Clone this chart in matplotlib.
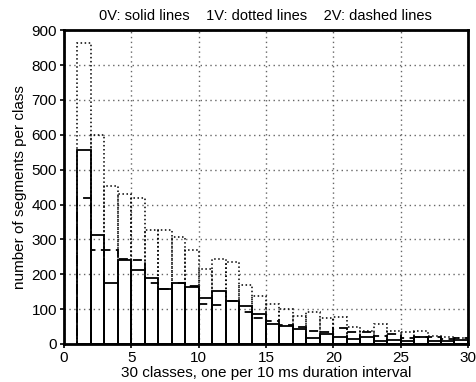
import numpy as np
import matplotlib
matplotlib.use("Agg")
import matplotlib.pyplot as plt

plt.rcParams["font.family"] = ["Liberation Sans", "DejaVu Sans"]

# class index (left edge of each 10 ms class)
classes = np.arange(1, 30)

# 0V: solid lines
v0 = [555, 314, 174, 240, 212, 189, 157, 174, 164, 131,
      152, 123, 110, 85, 58, 51, 42, 18, 29, 21,
      14, 21, 10, 11, 8, 21, 8, 10, 12]
# 1V: dotted lines
v1 = [864, 600, 452, 431, 419, 327, 327, 308, 270, 215,
      244, 235, 169, 139, 115, 100, 80, 91, 74, 77,
      48, 38, 57, 38, 34, 38, 23, 19, 18]
# 2V: dashed lines
v2 = [420, 270, 270, 245, 240, 176, 157, 176, 165, 116,
      112, 122, 92, 74, 66, 55, 48, 38, 35, 45,
      34, 33, 24, 30, 17, 21, 20, 15, 16]

fig = plt.figure(figsize=(4.77, 3.82), dpi=100)
ax = fig.add_axes([0.134, 0.0995, 0.847, 0.8215])

ax.bar(classes, v1, width=1, align="edge", fill=False, edgecolor="black",
       linestyle=":", linewidth=1.1, zorder=3)
ax.bar(classes, v2, width=1, align="edge", fill=False, edgecolor="black",
       linestyle=(0, (5, 3)), linewidth=1.3, zorder=4)
ax.bar(classes, v0, width=1, align="edge", fill=False, edgecolor="black",
       linestyle="-", linewidth=1.3, zorder=5)

ax.set_xlim(0, 30)
ax.set_ylim(0, 900)
ax.set_xticks(np.arange(0, 31, 5))
ax.set_yticks(np.arange(0, 901, 100))
ax.grid(True, linestyle=(0, (1, 2.5)), color="#666666", linewidth=1.0)
ax.set_axisbelow(True)
for s in ax.spines.values():
    s.set_linewidth(2)
ax.tick_params(labelsize=11, length=3, width=1.2, pad=2)

ax.set_xlabel("30 classes, one per 10 ms duration interval", fontsize=11, labelpad=1)
ax.set_ylabel("number of segments per class", fontsize=11, labelpad=3)
ax.set_title("0V: solid lines    1V: dotted lines    2V: dashed lines",
             fontsize=10.5, pad=7)

fig.savefig("out.png", dpi=100, facecolor="white")
